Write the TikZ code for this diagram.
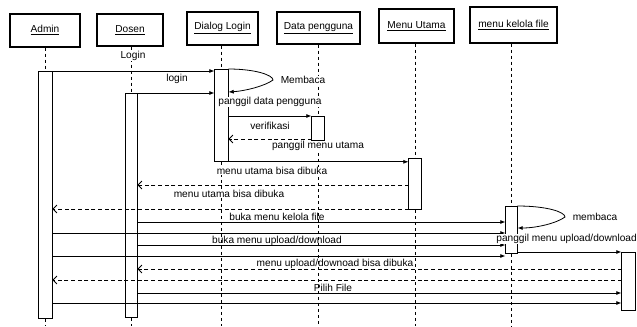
\documentclass[tikz,border=0pt]{standalone}
\usepackage{fontspec}
\setmainfont{Liberation Sans}
\usetikzlibrary{arrows.meta}
\begin{document}
\begin{tikzpicture}[x=0.75pt,y=-0.75pt,
  hdr/.style={draw,line width=0.8pt,rectangle,inner sep=0pt,font=\fontsize{7.6}{9}\selectfont},
  act/.style={draw,fill=white,line width=0.6pt,rectangle,inner sep=0pt,anchor=north},
  life/.style={line width=0.6pt,dash pattern=on 2.5pt off 2pt},
  msg/.style={line width=0.6pt,-{Latex[length=4pt,width=3pt]}},
  ret/.style={line width=0.6pt,dash pattern=on 3pt off 2pt,-{Straight Barb[length=3pt,width=6pt]}},
  lbl/.style={font=\fontsize{7.6}{9}\selectfont,inner sep=0.5pt},
  lblw/.style={lbl,fill=white}]
\useasboundingbox (0,0) rectangle (637,326);
\clip (0,0) rectangle (637,326);
\fill[white] (0,0) rectangle (637,326);
\coordinate (bot) at (0,326);
% headers
\node[hdr,minimum width=70*0.75pt,minimum height=33*0.75pt] (hA) at (45,30.5) {\underline{Admin}};
\node[hdr,minimum width=66*0.75pt,minimum height=32*0.75pt] (hD) at (130,30) {\underline{Dosen}};
\node[hdr,minimum width=71*0.75pt,minimum height=33*0.75pt] (hL) at (222.5,28.5) {\underline{Dialog Login}};
\node[hdr,minimum width=83*0.75pt,minimum height=32*0.75pt] (hP) at (318.5,28) {\underline{Data pengguna}};
\node[hdr,minimum width=75*0.75pt,minimum height=34*0.75pt] (hM) at (416.5,26) {\underline{Menu Utama}};
\node[hdr,minimum width=87*0.75pt,minimum height=36*0.75pt] (hK) at (513.5,25) {\underline{menu kelola file}};
% message levels
\coordinate (y71) at (0,71);
\coordinate (y93) at (0,93);
\coordinate (y92) at (0,92);
\coordinate (y116) at (0,116);
\coordinate (y139) at (0,139);
\coordinate (y185) at (0,185);
\coordinate (y209) at (0,209);
\coordinate (y228) at (0,228);
\coordinate (y222) at (0,222);
\coordinate (y233) at (0,233);
\coordinate (y245) at (0,245);
\coordinate (y256) at (0,256);
\coordinate (y252) at (0,252);
\coordinate (y269) at (0,269);
\coordinate (y280) at (0,280);
\coordinate (y293) at (0,293);
\coordinate (y303) at (0,303);
% activations
\path
  node[act,minimum width=13*0.75pt,minimum height=247*0.75pt] (actA) at (45.5,71) {}
  node[act,minimum width=11*0.75pt,minimum height=224*0.75pt] (actD) at (131.5,93) {}
  node[act,minimum width=13*0.75pt,minimum height=92*0.75pt] (actL) at (221.5,69) {}
  node[act,minimum width=12*0.75pt,minimum height=24*0.75pt] (actP) at (318,116) {}
  node[act,minimum width=12*0.75pt,minimum height=51*0.75pt] (actM) at (415,158) {}
  node[act,minimum width=11*0.75pt,minimum height=47*0.75pt] (actK) at (511.5,206) {}
  node[act,minimum width=13*0.75pt,minimum height=58*0.75pt] (actX) at (628.5,252) {};
% lifelines
\draw[life] (actA.north |- hA.south) -- (actA.north);
\draw[life] (actA.south) -- (actA.south |- bot);
\draw[life] (actD.north |- hD.south) -- (actD.north);
\draw[life] (actD.south) -- (actD.south |- bot);
\draw[life] (actL.north |- hL.south) -- (actL.north);
\draw[life] (actL.south) -- (actL.south |- bot);
\draw[life] (actP.north |- hP.south) -- (actP.north);
\draw[life] (actP.south) -- (actP.south |- bot);
\draw[life] (actM.north |- hM.south) -- (actM.north);
\draw[life] (actM.south) -- (actM.south |- bot);
\draw[life] (actK.north |- hK.south) -- (actK.north);
\draw[life] (actK.south) -- (actK.south |- bot);
% redraw activations on top
\foreach \n in {actA,actD,actL,actP,actM,actK,actX}
  \draw[line width=0.6pt,fill=white] (\n.north west) rectangle (\n.south east);
% messages
\draw[msg] (actA.east |- y71) -- (actL.west |- y71);
\draw[msg] (actD.east |- y93) -- (actL.west |- y93);
\draw[msg] (actL.north east) .. controls (255,69) and (273,75) .. (273,80) .. controls (265,86) and (245,91) .. (actL.east |- y92);
\draw[msg] (actL.east |- y116) -- (actP.west |- y116);
\draw[ret] (actP.west |- y139) -- (actL.east |- y139);
\draw[msg] (actL.south west) -- (actM.west |- actL.south);
\draw[ret] (actM.west |- y185) -- (actD.east |- y185);
\draw[ret] (actM.west |- y209) -- (actA.east |- y209);
\draw[msg] (actK.north east) .. controls (547,206) and (565,212) .. (565,217) .. controls (557,223) and (537,228) .. (actK.east |- y228);
\draw[msg] (actD.east |- y222) -- (actK.west |- y222);
\draw[msg] (actA.east |- y233) -- (actK.west |- y233);
\draw[msg] (actD.east |- y245) -- (actK.west |- y245);
\draw[msg] (actA.east |- y256) -- (actK.west |- y256);
\draw[msg] (actK.east |- y252) -- (actX.west |- y252);
\draw[ret] (actX.west |- y269) -- (actD.east |- y269);
\draw[ret] (actX.west |- y280) -- (actA.east |- y280);
\draw[msg] (actD.east |- y293) -- (actX.west |- y293);
\draw[msg] (actA.east |- y303) -- (actX.west |- y303);
% labels
\node[lblw] (tLogin) at (133,56) {Login};
\node[lbl] (tlogin) at (177,79) {login};
\node[lblw] (tMembaca) at (303,80) {Membaca};
\node[lblw] (tpdp) at (270,102) {panggil data pengguna};
\node[lbl] (tver) at (270,126) {verifikasi};
\node[lblw] (tpmu) at (318,146) {panggil menu utama};
\node[lblw] (tmub1) at (272,171) {menu utama bisa dibuka};
\node[lblw] (tmub2) at (229,194) {menu utama bisa dibuka};
\node[lbl] (tmembaca) at (595,217) {membaca};
\node[lbl] (tbmk) at (277,217) {buka menu kelola file};
\node[lbl] (tbmu) at (277,241) {buka menu upload/download};
\node[lblw,anchor=west] (tpmud) at (495.5,239) {panggil menu upload/download};
\node[lbl] (tmud) at (335,264) {menu upload/downoad bisa dibuka};
\node[lbl] (tpf) at (333,288) {Pilih File};
\end{tikzpicture}
\end{document}
